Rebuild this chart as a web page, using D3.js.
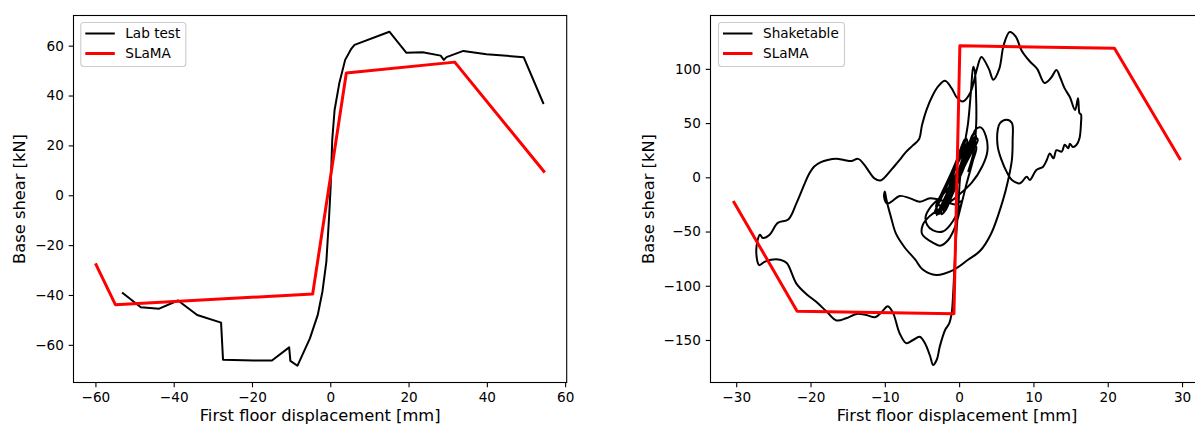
<!DOCTYPE html>
<html>
<head>
<meta charset="utf-8">
<script src="https://cdn.jsdelivr.net/npm/d3@7"></script>
<style>
  html, body { margin: 0; padding: 0; background: #fff; }
  svg { display: block; }
  text { font-family: "DejaVu Sans", sans-serif; fill: #000; }
</style>
</head>
<body>
<svg id="chart" width="1195" height="425"></svg>
<script>
// ---------------- DATA ----------------
const leftXTicks = [-60, -40, -20, 0, 20, 40, 60];
const leftYTicks = [-60, -40, -20, 0, 20, 40, 60];
const rightXTicks = [-30, -20, -10, 0, 10, 20, 30];
const rightYTicks = [-150, -100, -50, 0, 50, 100];

const leftSeriesNames = ["Lab test", "SLaMA"];
const rightSeriesNames = ["Shaketable", "SLaMA"];

// Lab test (displacement mm, base shear kN)
const labTest = [
  [-53.2, -39.0], [-48.4, -44.9], [-43.7, -45.5], [-38.9, -42.2], [-34.0, -48.0],
  [-27.9, -51.1], [-27.4, -66.0], [-19.6, -66.3], [-14.9, -66.3], [-10.5, -61.0],
  [-10.2, -66.4], [-8.4, -68.4], [-5.2, -57.4], [-3.2, -48.0], [-2.0, -38.6],
  [-1.0, -26.6], [-0.3, -8.6], [0.1, 3.5], [0.5, 22.2], [1.1, 34.2], [2.3, 44.9],
  [3.8, 54.3], [5.3, 58.6], [6.2, 60.3], [15.1, 65.6], [19.4, 57.2], [23.6, 57.4],
  [28.2, 56.0], [29.0, 54.3], [29.7, 55.4], [34.0, 57.9], [39.9, 56.6], [49.4, 55.4],
  [54.5, 36.6]
];

// SLaMA, left panel
const slamaLeft = [
  [-60.0, -27.3], [-54.9, -43.9], [-4.5, -39.6], [4.1, 49.0], [31.8, 53.4], [54.8, 9.1]
];

// SLaMA, right panel
const slamaRight = [
  [-30.4, -21.8], [-21.8, -123.4], [-0.7, -125.8], [0.1, 121.2], [20.9, 119.1], [29.8, 16.0]
];

// Shaketable hysteresis (displacement mm, base shear kN)
const shaketable = [
  // small cycles near the origin
  [0, 0], [0.6, 12], [1.1, 22], [1.3, 27], [0.9, 25], [0.1, 10], [-0.8, -6], [-1.5, -18],
  [-1.7, -24], [-1.3, -20], [-0.5, -6], [0.4, 8],
  [1.2, 20], [1.8, 30], [2.0, 35], [1.6, 33], [0.7, 18], [-0.4, 0], [-1.6, -18], [-2.5, -30],
  [-2.7, -34], [-2.2, -28], [-1.1, -12], [0.1, 6],
  [1.0, 18], [1.9, 31], [2.3, 38], [2.1, 37], [1.2, 24], [-0.1, 4], [-1.4, -14], [-2.3, -26],
  [-3.0, -35], [-2.9, -33], [-2.0, -20], [-0.8, -2], [0.5, 14],
  [1.5, 26], [2.2, 33], [2.0, 30], [1.0, 17], [-0.3, -1], [-1.6, -19], [-2.2, -29],
  [-1.9, -30], [-0.9, -16], [0.2, 2],
  [1.3, 22], [2.4, 36], [2.5, 34], [1.6, 22], [0.2, 3], [-1.2, -15], [-2.6, -31],
  [-3.3, -33], [-2.6, -22], [-1.5, -6], [-0.4, 10], [0.6, 24], [1.1, 33], [0.9, 36],
  [0.4, 26], [-0.5, 8], [-1.3, -8], [-2.0, -22], [-2.4, -34], [-1.8, -30], [-0.7, -12], [0.6, 8],
  [1.4, 24], [1.9, 34], [1.7, 36], [1.0, 26], [0.0, 8], [-1.0, -10], [-1.9, -25],
  [-2.1, -31], [-1.4, -22], [-0.3, -4], [0.8, 15], [1.7, 29], [2.2, 39], [1.9, 40],
  [1.3, 30], [0.4, 12], [-0.7, -8], [-1.7, -22], [-2.8, -30], [-3.1, -27], [-2.3, -14],
  [-1.2, 2], [-0.2, 18], [0.5, 30], [0.7, 35], [0.3, 28], [-0.6, 10], [-1.5, -6],
  [-2.4, -18], [-2.9, -24], [-2.5, -26], [-1.5, -14], [-0.3, 4], [0.9, 20],
  // medium cycle
  [1.5, 30], [2.2, 44], [2.9, 46], [3.6, 38], [3.8, 24], [3.1, 10], [1.7, -5], [0.0, -16],
  [-1.5, -24], [-2.8, -30], [-4.0, -36], [-4.9, -44], [-5.0, -52], [-4.5, -56], [-3.6, -60],
  [-2.6, -63], [-1.5, -58], [-0.5, -45], [0.3, -25], [1.0, -6], [1.8, 14],
  [2.3, 28], [1.8, 30], [0.5, 12], [-1.0, -6], [-2.5, -18], [-3.8, -27], [-4.5, -36],
  [-4.3, -44], [-3.5, -49], [-2.2, -50], [-0.8, -40], [0.3, -22], [-0.5, -25], [-2.0, -22],
  // hook and lower loop
  [-3.9, -19.4], [-5.3, -22.5], [-6.6, -19.4], [-8.0, -17.2], [-9.1, -22.5], [-9.7, -24],
  [-10.1, -18], [-10.0, -13], [-9.8, -20], [-9.6, -26], [-9.2, -36], [-8.5, -52],
  [-7.4, -64], [-5.9, -76], [-4.9, -85], [-3.1, -90], [-0.8, -85.5], [1.2, -76],
  [2.8, -68], [4.3, -52], [5.9, -21], [6.6, -2.5], [7.1, 16], [7.2, 34], [7.1, 50],
  [6.4, 53], [5.5, 50], [5.2, 44], [5.2, 28], [5.7, 16], [6.4, 5], [7.1, -2.5],
  [8.2, -5.5], [9.1, 0.6], [9.5, -2.5], [10.4, 6.7], [11.3, 9.8], [11.8, 16], [12.2, 22],
  [12.7, 17.5], [13.1, 25], [13.8, 23.6], [14.2, 30], [14.7, 26.7], [14.9, 31], [15.3, 28],
  [15.8, 30], [16.2, 36], [16.4, 50], [16.4, 58], [16.2, 59], [16.0, 73], [15.6, 62],
  [14.9, 74], [14.2, 82], [13.6, 92], [13.1, 99], [12.4, 92], [11.5, 87], [10.5, 100],
  [9.5, 107], [8.4, 117], [7.6, 130], [6.8, 134], [6.0, 122], [5.4, 100], [4.6, 90],
  [4.0, 100], [3.0, 111], [2.4, 100], [1.5, 78], [0.5, 70], [-0.35, 74], [-1.0, 82],
  [-1.9, 89], [-2.8, 84], [-3.6, 75], [-4.4, 62], [-5.0, 48], [-5.4, 35], [-6.3, 29],
  [-7.2, 23], [-8.0, 16], [-9.0, 8], [-10.0, 0], [-10.6, -3], [-11.4, -1], [-12.0, 4],
  [-12.8, 12], [-13.6, 17], [-14.5, 15], [-15.5, 16], [-16.5, 17], [-17.7, 16], [-18.6, 14],
  [-19.5, 10], [-20.2, 3], [-20.8, -6], [-21.9, -24], [-23.0, -39], [-24.4, -42],
  [-25.5, -53], [-26.4, -56], [-26.8, -53], [-27.3, -67], [-26.9, -81], [-26.2, -78],
  [-25.3, -76], [-24.1, -76], [-23.2, -79], [-21.9, -98], [-20.5, -108], [-19.2, -115],
  [-17.8, -124], [-16.5, -132], [-15.2, -130], [-13.8, -126], [-12.5, -127], [-11.3, -129],
  [-10.4, -124], [-9.6, -119], [-8.9, -125], [-8.0, -144], [-7.1, -153], [-6.2, -150],
  [-5.3, -147], [-4.6, -153], [-3.9, -165], [-3.5, -173], [-3.0, -168], [-2.6, -156],
  [-1.9, -141], [-1.35, -135], [-1.0, -125], [-0.8, -107], [-0.6, -79], [-0.35, -49],
  [-0.1, -27], [0.1, -2.5], [0.6, 25], [1.2, 50], [1.6, 80], [1.9, 102], [2.1, 98],
  [2.3, 70], [2.3, 50], [2.0, 25], [1.2, 5]
];

// ---------------- DRAWING ----------------
const svg = d3.select("#chart");
const FONT_TICK = 13.6;
const FONT_LABEL = 16.3;
const TICK_LEN = 4.8;
const TICK_PAD = 4.8;

function fmt(d) { return d < 0 ? "\u2212" + Math.abs(d) : String(d); }

function drawPanel(cfg) {
  const x = d3.scaleLinear().domain(cfg.xDomain).range([cfg.left, cfg.right]);
  const y = d3.scaleLinear().domain(cfg.yDomain).range([cfg.bottom, cfg.top]);
  const g = svg.append("g");

  const clipId = "clip" + cfg.id;
  svg.append("defs").append("clipPath").attr("id", clipId)
    .append("rect").attr("x", cfg.left).attr("y", cfg.top)
    .attr("width", cfg.right - cfg.left).attr("height", cfg.bottom - cfg.top);

  const line = d3.line().x(d => x(d[0])).y(d => y(d[1]));

  const plot = g.append("g").attr("clip-path", `url(#${clipId})`);
  plot.append("path").datum(cfg.black)
    .attr("d", line.curve(cfg.smooth ? d3.curveCatmullRom.alpha(0.5) : d3.curveLinear))
    .attr("fill", "none").attr("stroke", "#000").attr("stroke-width", 2)
    .attr("stroke-linejoin", "round");
  plot.append("path").datum(cfg.red)
    .attr("d", d3.line().x(d => x(d[0])).y(d => y(d[1])))
    .attr("fill", "none").attr("stroke", "#ff0000").attr("stroke-width", 3)
    .attr("stroke-linejoin", "round");

  const xAxis = g.append("g").attr("transform", `translate(0,${cfg.bottom})`)
    .call(d3.axisBottom(x).tickValues(cfg.xTicks).tickSize(TICK_LEN).tickPadding(TICK_PAD).tickFormat(fmt));
  const yAxis = g.append("g").attr("transform", `translate(${cfg.left},0)`)
    .call(d3.axisLeft(y).tickValues(cfg.yTicks).tickSize(TICK_LEN).tickPadding(TICK_PAD).tickFormat(fmt));
  [xAxis, yAxis].forEach(a => {
    a.select(".domain").remove();
    a.selectAll("line").attr("stroke", "#000").attr("stroke-width", 1.1);
    a.selectAll("text").attr("font-size", FONT_TICK).attr("font-family", "DejaVu Sans").attr("fill", "#000");
  });

  g.append("rect").attr("x", cfg.left).attr("y", cfg.top)
    .attr("width", cfg.right - cfg.left).attr("height", cfg.bottom - cfg.top)
    .attr("fill", "none").attr("stroke", "#000").attr("stroke-width", 1.1);

  g.append("text").attr("x", (cfg.left + cfg.right) / 2).attr("y", 420.5)
    .attr("text-anchor", "middle").attr("font-size", FONT_LABEL)
    .text("First floor displacement [mm]");
  const cy = (cfg.top + cfg.bottom) / 2;
  g.append("text").attr("transform", `translate(${cfg.ylabelX},${cy}) rotate(-90)`)
    .attr("text-anchor", "middle").attr("font-size", FONT_LABEL)
    .text("Base shear [kN]");

  const L = cfg.legend;
  g.append("rect").attr("x", L.x).attr("y", L.y).attr("width", L.w).attr("height", L.h)
    .attr("rx", 3).attr("fill", "#fff").attr("fill-opacity", 0.8)
    .attr("stroke", "#cccccc").attr("stroke-width", 1.1);
  const rows = [{ name: cfg.names[0], color: "#000", w: 2 }, { name: cfg.names[1], color: "#ff0000", w: 3 }];
  rows.forEach((r, i) => {
    const ry = L.y + 11 + i * 20;
    g.append("line").attr("x1", L.x + 4.5).attr("x2", L.x + 34).attr("y1", ry).attr("y2", ry)
      .attr("stroke", r.color).attr("stroke-width", r.w);
    g.append("text").attr("x", L.x + 44.5).attr("y", ry).attr("dy", "0.36em")
      .attr("font-size", FONT_TICK).text(r.name);
  });
}

drawPanel({
  id: "L", left: 73.5, right: 566.7, top: 15.5, bottom: 382.5,
  xDomain: [-65.6, 60.4], yDomain: [-75.1, 72.1],
  xTicks: leftXTicks, yTicks: leftYTicks,
  black: labTest, red: slamaLeft, smooth: false,
  names: leftSeriesNames, ylabelX: 25,
  legend: { x: 80.8, y: 22.5, w: 105, h: 44 }
});

drawPanel({
  id: "R", left: 710.5, right: 1203.6, top: 15.5, bottom: 382.5,
  xDomain: [-33.46, 32.9], yDomain: [-189.2, 149.2],
  xTicks: rightXTicks, yTicks: rightYTicks,
  black: shaketable, red: slamaRight, smooth: true,
  names: rightSeriesNames, ylabelX: 654,
  legend: { x: 718.5, y: 22.5, w: 126, h: 44 }
});
</script>
</body>
</html>
